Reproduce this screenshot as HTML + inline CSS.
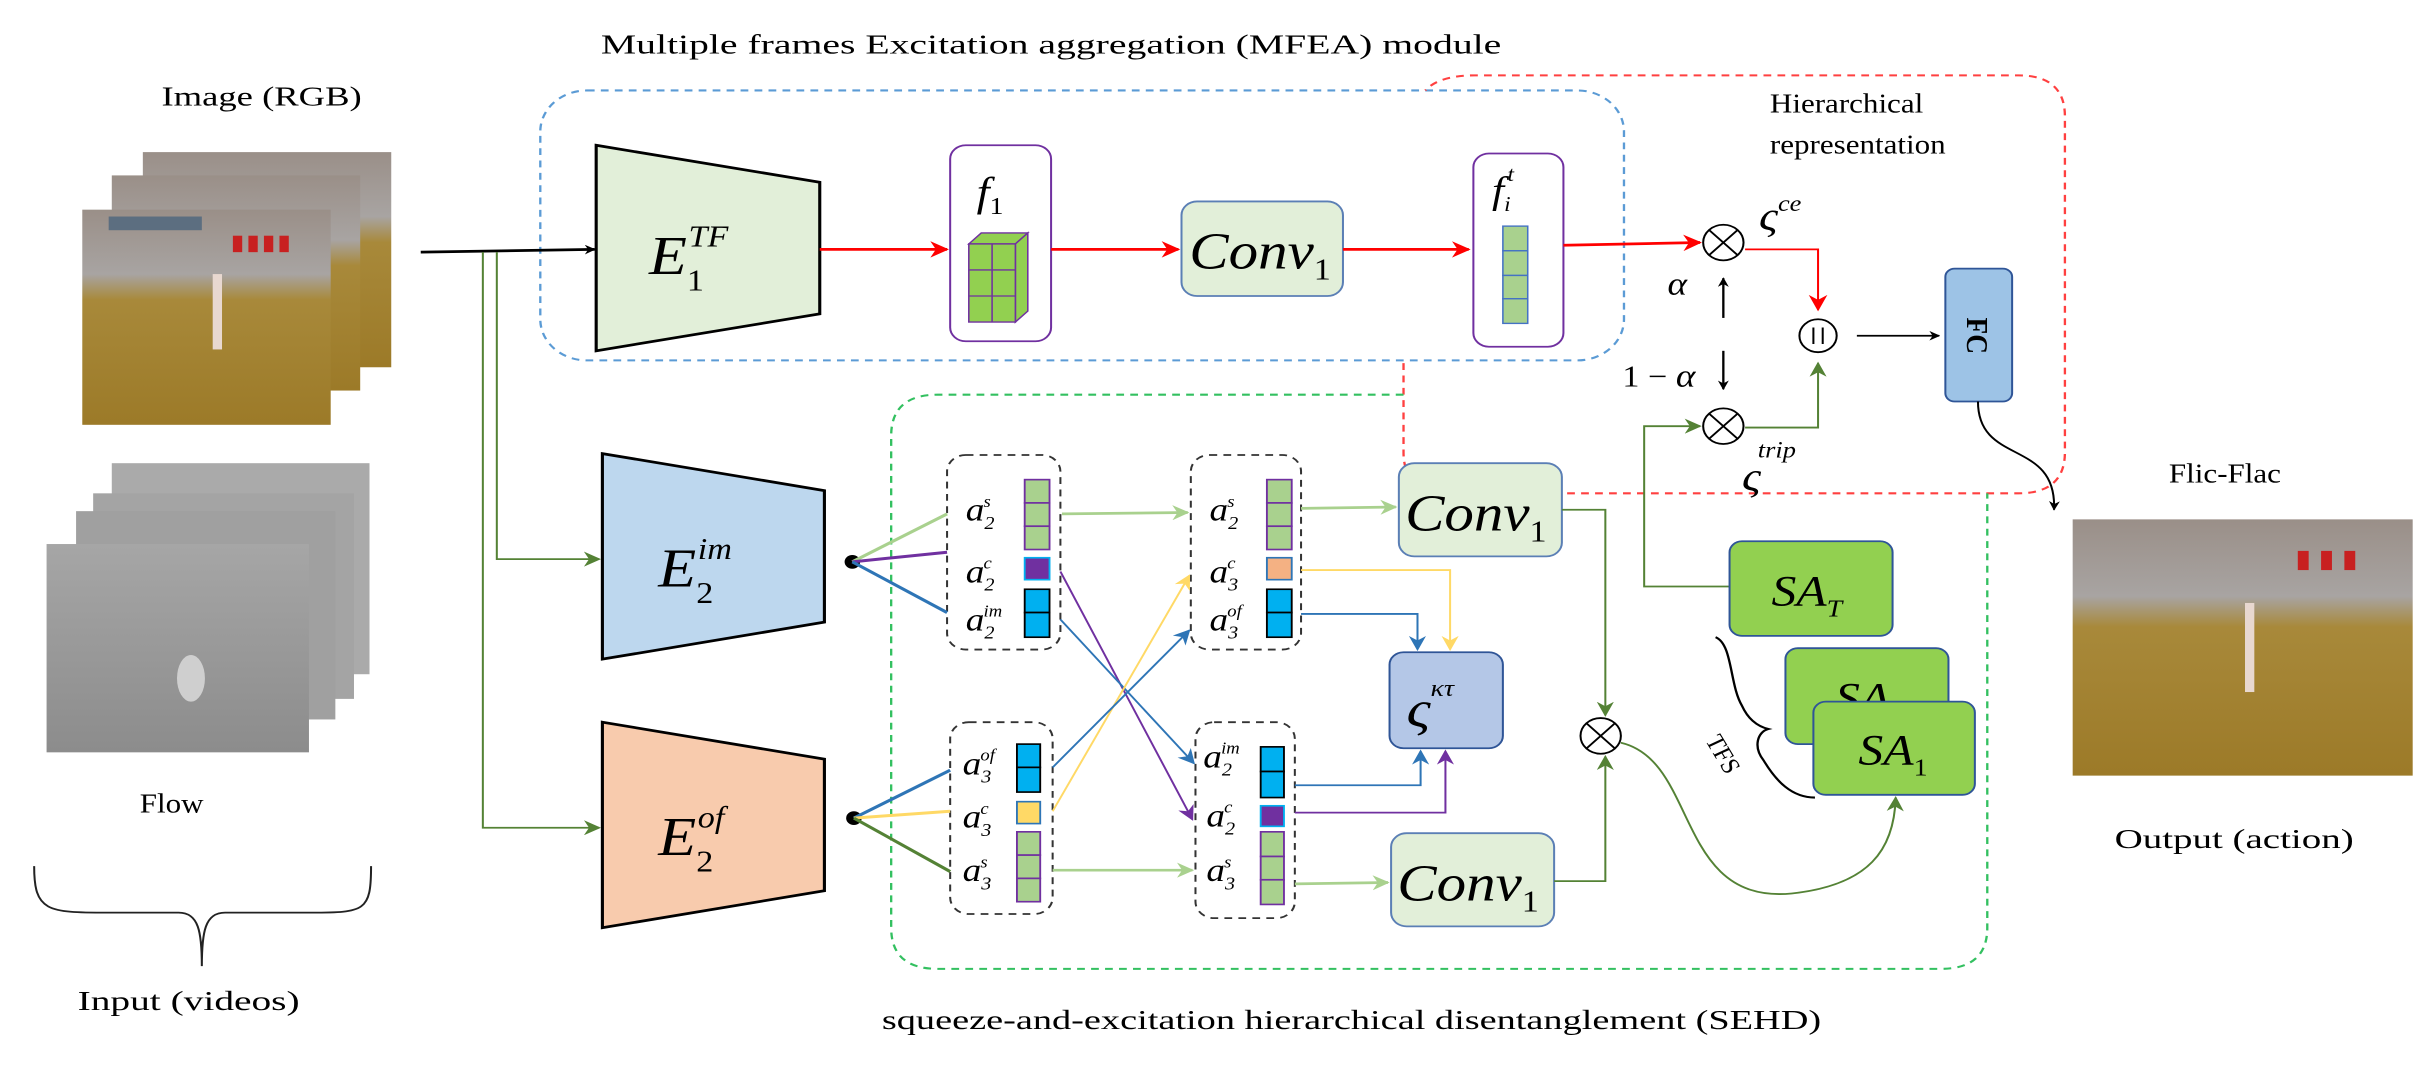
<!DOCTYPE html>
<html><head><meta charset="utf-8"><style>html,body{margin:0;padding:0;background:#fff;overflow:hidden}svg{display:block}</style></head><body>
<svg width="2422" height="1073" viewBox="0 0 1560 783" preserveAspectRatio="none" xmlns="http://www.w3.org/2000/svg" font-family="Liberation Serif, serif">
<defs>
<marker id="mk" viewBox="0 0 10 10" refX="9" refY="5" markerWidth="7" markerHeight="7" orient="auto" markerUnits="userSpaceOnUse"><path d="M0,0 L10,5 L0,10 L3,5z" fill="#000"/></marker>
<marker id="mr" viewBox="0 0 10 10" refX="9" refY="5" markerWidth="12" markerHeight="12" orient="auto" markerUnits="userSpaceOnUse"><path d="M0,0 L10,5 L0,10 L3,5z" fill="#f00"/></marker>
<marker id="mg" viewBox="0 0 10 10" refX="9" refY="5" markerWidth="11" markerHeight="11" orient="auto" markerUnits="userSpaceOnUse"><path d="M0,0 L10,5 L0,10 L3,5z" fill="#548235"/></marker>
<marker id="mlg" viewBox="0 0 10 10" refX="9" refY="5" markerWidth="11" markerHeight="11" orient="auto" markerUnits="userSpaceOnUse"><path d="M0,0 L10,5 L0,10 L3,5z" fill="#a9d18e"/></marker>
<marker id="mb" viewBox="0 0 10 10" refX="9" refY="5" markerWidth="11" markerHeight="11" orient="auto" markerUnits="userSpaceOnUse"><path d="M0,0 L10,5 L0,10 L3,5z" fill="#2e75b6"/></marker>
<marker id="mp" viewBox="0 0 10 10" refX="9" refY="5" markerWidth="11" markerHeight="11" orient="auto" markerUnits="userSpaceOnUse"><path d="M0,0 L10,5 L0,10 L3,5z" fill="#7030a0"/></marker>
<marker id="my" viewBox="0 0 10 10" refX="9" refY="5" markerWidth="11" markerHeight="11" orient="auto" markerUnits="userSpaceOnUse"><path d="M0,0 L10,5 L0,10 L3,5z" fill="#ffd966"/></marker>
<linearGradient id="ph" x1="0" y1="0" x2="0" y2="1"><stop offset="0" stop-color="#9a8f88"/><stop offset="0.3" stop-color="#a8a4a2"/><stop offset="0.42" stop-color="#a8893a"/><stop offset="1" stop-color="#9c7a28"/></linearGradient>
<linearGradient id="fl" x1="0" y1="0" x2="0" y2="1"><stop offset="0" stop-color="#a6a6a6"/><stop offset="0.5" stop-color="#999"/><stop offset="1" stop-color="#8c8c8c"/></linearGradient>
</defs>

<text x="387" y="39" font-size="20" textLength="580" lengthAdjust="spacingAndGlyphs">Multiple frames Excitation aggregation (MFEA) module</text>
<text x="104" y="77" font-size="20" textLength="129" lengthAdjust="spacingAndGlyphs">Image (RGB)</text>
<text x="90" y="593" font-size="20">Flow</text>
<text x="50" y="737" font-size="20" textLength="143" lengthAdjust="spacingAndGlyphs">Input (videos)</text>
<text x="568" y="751" font-size="20" textLength="605" lengthAdjust="spacingAndGlyphs">squeeze-and-excitation hierarchical disentanglement (SEHD)</text>
<text x="1140" y="82" font-size="20">Hierarchical</text>
<text x="1140" y="112" font-size="20">representation</text>
<text x="1397" y="352" font-size="20">Flic-Flac</text>
<text x="1362" y="619" font-size="20" textLength="154" lengthAdjust="spacingAndGlyphs">Output (action)</text>

<rect x="92" y="111" width="160" height="157" fill="url(#ph)"/>
<rect x="72" y="128" width="160" height="157" fill="url(#ph)"/>
<rect x="53" y="153" width="160" height="157" fill="url(#ph)"/>
<rect x="70" y="158" width="60" height="10" fill="#5c6e80"/>
<g fill="#c82020"><rect x="150" y="172" width="6" height="12"/><rect x="160" y="172" width="6" height="12"/><rect x="170" y="172" width="6" height="12"/><rect x="180" y="172" width="6" height="12"/></g>
<rect x="137" y="200" width="6" height="55" fill="#e8d8d0"/>
<rect x="72" y="338" width="166" height="154" fill="#aaa"/>
<rect x="60" y="360" width="168" height="150" fill="#a4a4a4"/>
<rect x="49" y="373" width="167" height="152" fill="#a0a0a0"/>
<rect x="30" y="397" width="169" height="152" fill="url(#fl)"/>
<ellipse cx="123" cy="495" rx="9" ry="17" fill="#cfcfcf"/>
<rect x="1335" y="379" width="219" height="187" fill="url(#ph)"/>
<g fill="#c82020"><rect x="1480" y="402" width="7" height="14"/><rect x="1495" y="402" width="7" height="14"/><rect x="1510" y="402" width="7" height="14"/></g>
<rect x="1446" y="440" width="6" height="65" fill="#e8d8d0"/>

<path d="M22,632 C22,665 30,666 70,666 L115,666 C128,666 130,680 130,705 C130,680 132,666 145,666 L200,666 C235,666 239,665 239,632" fill="none" stroke="#222" stroke-width="1.3"/>

<rect x="348" y="66" width="698" height="197" rx="30" fill="none" stroke="#5b9bd5" stroke-width="1.5" stroke-dasharray="5,4"/>
<path d="M904,265 L904,330 Q904,360 934,360 L1300,360 Q1330,360 1330,330 L1330,85 Q1330,55 1300,55 L950,55 Q927,55 918,66" fill="none" stroke="#ff4040" stroke-width="1.5" stroke-dasharray="5,4"/>
<path d="M904,288 L604,288 Q574,288 574,318 L574,677 Q574,707 604,707 L1250,707 Q1280,707 1280,677 L1280,360" fill="none" stroke="#33c060" stroke-width="1.5" stroke-dasharray="5,4"/>

<line x1="271" y1="184" x2="383" y2="182" stroke="#000" stroke-width="2" marker-end="url(#mk)"/>
<path d="M320,184 L320,408 L386,408" fill="none" stroke="#548235" stroke-width="1.3" marker-end="url(#mg)"/>
<path d="M311,184 L311,604 L386,604" fill="none" stroke="#548235" stroke-width="1.3" marker-end="url(#mg)"/>

<polygon points="384,106 528,133 528,229 384,256" fill="#e2efd9" stroke="#000" stroke-width="2"/>
<text x="418" y="200" font-size="40" font-style="italic">E<tspan font-size="22" dy="12" font-style="normal">1</tspan><tspan font-size="22" dx="-10" dy="-32">TF</tspan></text>
<polygon points="388,331 531,358 531,454 388,481" fill="#bdd7ee" stroke="#000" stroke-width="2"/>
<text x="424" y="428" font-size="40" font-style="italic">E<tspan font-size="22" dy="12" font-style="normal">2</tspan><tspan font-size="22" dx="-10" dy="-32">im</tspan></text>
<polygon points="388,527 531,554 531,650 388,677" fill="#f8cbad" stroke="#000" stroke-width="2"/>
<text x="424" y="624" font-size="40" font-style="italic">E<tspan font-size="22" dy="12" font-style="normal">2</tspan><tspan font-size="22" dx="-10" dy="-32">of</tspan></text>

<line x1="528" y1="182" x2="610" y2="182" stroke="#f00" stroke-width="2" marker-end="url(#mr)"/>
<rect x="612" y="106" width="65" height="143" rx="10" fill="#fff" stroke="#7030a0" stroke-width="1.3"/>
<text x="629" y="150" font-size="30" font-style="italic">f<tspan font-size="18" dy="6" font-style="normal">1</tspan></text>
<g stroke="#7030a0" stroke-width="1" fill="#92d050">
<polygon points="624,178 632,170 662,170 654,178"/>
<polygon points="654,178 662,170 662,227 654,235"/>
<rect x="624" y="178" width="30" height="57"/>
<line x1="639" y1="178" x2="639" y2="235"/><line x1="624" y1="197" x2="654" y2="197"/><line x1="624" y1="216" x2="654" y2="216"/>
</g>
<line x1="677" y1="182" x2="759" y2="182" stroke="#f00" stroke-width="2" marker-end="url(#mr)"/>
<rect x="761" y="147" width="104" height="69" rx="10" fill="#e2efd9" stroke="#5b7fb5" stroke-width="1.3"/>
<text x="766" y="196" font-size="38" font-style="italic">Conv<tspan font-size="22" dy="8" font-style="normal">1</tspan></text>
<line x1="865" y1="182" x2="946" y2="182" stroke="#f00" stroke-width="2" marker-end="url(#mr)"/>
<rect x="949" y="112" width="58" height="141" rx="10" fill="#fff" stroke="#7030a0" stroke-width="1.3"/>
<text x="961" y="148" font-size="28" font-style="italic">f<tspan font-size="15" dy="6">i</tspan><tspan font-size="15" dy="-22" dx="-2">t</tspan></text>
<g fill="#a9d18e" stroke="#4472c4" stroke-width="1"><rect x="968" y="165" width="16" height="18"/><rect x="968" y="183" width="16" height="18"/><rect x="968" y="201" width="16" height="17"/><rect x="968" y="218" width="16" height="18"/></g>
<line x1="1007" y1="179" x2="1095" y2="177" stroke="#f00" stroke-width="2" marker-end="url(#mr)"/>

<g fill="#fff" stroke="#000" stroke-width="1.3">
<circle cx="1110" cy="177" r="13"/><path d="M1101,168 L1119,186 M1119,168 L1101,186"/>
<circle cx="1110" cy="311" r="13"/><path d="M1101,302 L1119,320 M1119,302 L1101,320"/>
<circle cx="1171" cy="245" r="12"/><path d="M1168,239 L1168,251 M1174,239 L1174,251"/>
</g>
<text x="1133" y="168" font-size="30" font-style="italic">ς<tspan font-size="17" dy="-14">ce</tspan></text>
<text x="1074" y="215" font-size="24" font-style="italic">α</text>
<text x="1045" y="282" font-size="22">1 − <tspan font-style="italic" font-size="24">α</tspan></text>
<text x="1122" y="358" font-size="30" font-style="italic">ς<tspan font-size="17" dy="-24" dx="-2">trip</tspan></text>
<line x1="1110" y1="232" x2="1110" y2="203" stroke="#000" stroke-width="1.5" marker-end="url(#mk)"/>
<line x1="1110" y1="256" x2="1110" y2="284" stroke="#000" stroke-width="1.5" marker-end="url(#mk)"/>
<path d="M1124,182 L1171,182 L1171,226" fill="none" stroke="#f00" stroke-width="1.3" marker-end="url(#mr)"/>
<path d="M1124,312 L1171,312 L1171,265" fill="none" stroke="#548235" stroke-width="1.3" marker-end="url(#mg)"/>
<line x1="1196" y1="245" x2="1249" y2="245" stroke="#000" stroke-width="1.3" marker-end="url(#mk)"/>
<rect x="1253" y="196" width="43" height="97" rx="6" fill="#9dc3e6" stroke="#2f5597" stroke-width="1.3"/>
<text x="1274" y="245" font-size="20" font-weight="bold" text-anchor="middle" transform="rotate(90 1274 245)" dy="7">FC</text>
<path d="M1274,293 C1274,340 1325,320 1323,372" fill="none" stroke="#000" stroke-width="1.3" marker-end="url(#mk)"/>

<g fill="none" stroke="#333" stroke-width="1.3" stroke-dasharray="5,4">
<rect x="610" y="332" width="73" height="142" rx="12"/>
<rect x="612" y="527" width="66" height="140" rx="12"/>
<rect x="767" y="332" width="71" height="142" rx="12"/>
<rect x="770" y="527" width="64" height="143" rx="12"/>
</g>
<g font-style="italic" font-size="24">
<text x="622" y="380">a<tspan font-size="13" dy="6">2</tspan><tspan font-size="12" dy="-16" dx="-7">s</tspan></text>
<text x="622" y="425">a<tspan font-size="13" dy="6">2</tspan><tspan font-size="12" dy="-16" dx="-7">c</tspan></text>
<text x="622" y="460">a<tspan font-size="13" dy="6">2</tspan><tspan font-size="12" dy="-16" dx="-7">im</tspan></text>
<text x="620" y="565">a<tspan font-size="13" dy="6">3</tspan><tspan font-size="12" dy="-16" dx="-7">of</tspan></text>
<text x="620" y="604">a<tspan font-size="13" dy="6">3</tspan><tspan font-size="12" dy="-16" dx="-7">c</tspan></text>
<text x="620" y="643">a<tspan font-size="13" dy="6">3</tspan><tspan font-size="12" dy="-16" dx="-7">s</tspan></text>
<text x="779" y="380">a<tspan font-size="13" dy="6">2</tspan><tspan font-size="12" dy="-16" dx="-7">s</tspan></text>
<text x="779" y="425">a<tspan font-size="13" dy="6">3</tspan><tspan font-size="12" dy="-16" dx="-7">c</tspan></text>
<text x="779" y="460">a<tspan font-size="13" dy="6">3</tspan><tspan font-size="12" dy="-16" dx="-7">of</tspan></text>
<text x="775" y="560">a<tspan font-size="13" dy="6">2</tspan><tspan font-size="12" dy="-16" dx="-7">im</tspan></text>
<text x="777" y="603">a<tspan font-size="13" dy="6">2</tspan><tspan font-size="12" dy="-16" dx="-7">c</tspan></text>
<text x="777" y="643">a<tspan font-size="13" dy="6">3</tspan><tspan font-size="12" dy="-16" dx="-7">s</tspan></text>
</g>
<g stroke-width="1.2">
<g fill="#a9d18e" stroke="#7030a0"><rect x="660" y="350" width="16" height="17"/><rect x="660" y="367" width="16" height="17"/><rect x="660" y="384" width="16" height="17"/></g>
<rect x="660" y="407" width="16" height="16" fill="#7030a0" stroke="#00b0f0"/>
<g fill="#00b0f0" stroke="#000"><rect x="660" y="430" width="16" height="17"/><rect x="660" y="447" width="16" height="18"/></g>
<g fill="#00b0f0" stroke="#000"><rect x="655" y="543" width="15" height="17"/><rect x="655" y="560" width="15" height="18"/></g>
<rect x="655" y="585" width="15" height="16" fill="#ffd966" stroke="#2e75b6"/>
<g fill="#a9d18e" stroke="#7030a0"><rect x="655" y="607" width="15" height="17"/><rect x="655" y="624" width="15" height="17"/><rect x="655" y="641" width="15" height="17"/></g>
<g fill="#a9d18e" stroke="#7030a0"><rect x="816" y="350" width="16" height="17"/><rect x="816" y="367" width="16" height="17"/><rect x="816" y="384" width="16" height="17"/></g>
<rect x="816" y="407" width="16" height="16" fill="#f4b183" stroke="#2e75b6"/>
<g fill="#00b0f0" stroke="#000"><rect x="816" y="430" width="16" height="17"/><rect x="816" y="447" width="16" height="18"/></g>
<g fill="#00b0f0" stroke="#000"><rect x="812" y="545" width="15" height="18"/><rect x="812" y="563" width="15" height="19"/></g>
<rect x="812" y="588" width="15" height="15" fill="#7030a0" stroke="#00b0f0"/>
<g fill="#a9d18e" stroke="#7030a0"><rect x="812" y="607" width="15" height="18"/><rect x="812" y="625" width="15" height="17"/><rect x="812" y="642" width="15" height="18"/></g>
</g>

<circle cx="549" cy="410" r="5" fill="#000"/>
<circle cx="550" cy="597" r="5" fill="#000"/>
<g stroke-width="2.2" fill="none">
<line x1="549" y1="410" x2="610" y2="375" stroke="#a9d18e"/>
<line x1="549" y1="410" x2="610" y2="403" stroke="#7030a0"/>
<line x1="549" y1="410" x2="610" y2="447" stroke="#2e75b6"/>
<line x1="550" y1="597" x2="612" y2="562" stroke="#2e75b6"/>
<line x1="550" y1="597" x2="612" y2="592" stroke="#ffd966"/>
<line x1="550" y1="597" x2="612" y2="636" stroke="#548235"/>
</g>
<g stroke-width="1.3" fill="none">
<line x1="684" y1="375" x2="765" y2="374" stroke="#a9d18e" stroke-width="2" marker-end="url(#mlg)"/>
<line x1="683" y1="417" x2="768" y2="598" stroke="#7030a0" marker-end="url(#mp)"/>
<line x1="683" y1="452" x2="769" y2="557" stroke="#2e75b6" marker-end="url(#mb)"/>
<line x1="678" y1="592" x2="766" y2="420" stroke="#ffd966" marker-end="url(#my)"/>
<line x1="678" y1="560" x2="766" y2="460" stroke="#2e75b6" marker-end="url(#mb)"/>
<line x1="678" y1="635" x2="768" y2="635" stroke="#a9d18e" stroke-width="2" marker-end="url(#mlg)"/>
<line x1="838" y1="371" x2="899" y2="370" stroke="#a9d18e" stroke-width="2" marker-end="url(#mlg)"/>
<path d="M838,416 L934,416 L934,474" stroke="#ffd966" marker-end="url(#my)"/>
<path d="M838,448 L913,448 L913,474" stroke="#2e75b6" marker-end="url(#mb)"/>
<path d="M834,573 L915,573 L915,548" stroke="#2e75b6" marker-end="url(#mb)"/>
<path d="M834,593 L931,593 L931,548" stroke="#7030a0" marker-end="url(#mp)"/>
<line x1="834" y1="645" x2="894" y2="644" stroke="#a9d18e" stroke-width="2" marker-end="url(#mlg)"/>
</g>

<rect x="901" y="338" width="105" height="68" rx="10" fill="#e2efd9" stroke="#5b7fb5" stroke-width="1.3"/>
<text x="905" y="387" font-size="38" font-style="italic">Conv<tspan font-size="22" dy="8" font-style="normal">1</tspan></text>
<rect x="896" y="608" width="105" height="68" rx="10" fill="#e2efd9" stroke="#5b7fb5" stroke-width="1.3"/>
<text x="900" y="657" font-size="38" font-style="italic">Conv<tspan font-size="22" dy="8" font-style="normal">1</tspan></text>
<rect x="895" y="476" width="73" height="70" rx="9" fill="#b4c7e7" stroke="#2f5597" stroke-width="1.3"/>
<text x="906" y="530" font-size="38" font-style="italic">ς<tspan font-size="18" dy="-22">κτ</tspan></text>

<path d="M1006,372 L1034,372 L1034,522" fill="none" stroke="#548235" stroke-width="1.3" marker-end="url(#mg)"/>
<path d="M1001,643 L1034,643 L1034,552" fill="none" stroke="#548235" stroke-width="1.3" marker-end="url(#mg)"/>
<g fill="#fff" stroke="#000" stroke-width="1.3"><circle cx="1031" cy="537" r="13"/><path d="M1022,528 L1040,546 M1040,528 L1022,546"/></g>
<path d="M1044,542 C1094,555 1079,660 1154,652 C1204,646 1220,620 1221,582" fill="none" stroke="#548235" stroke-width="1.3" marker-end="url(#mg)"/>
<path d="M1114,428 L1059,428 L1059,311 L1095,311" fill="none" stroke="#548235" stroke-width="1.3" marker-end="url(#mg)"/>

<rect x="1114" y="395" width="105" height="69" rx="8" fill="#92d050" stroke="#2f5597" stroke-width="1.3"/>
<text x="1141" y="442" font-size="32" font-style="italic">SA<tspan font-size="18" dy="8">T</tspan></text>
<rect x="1150" y="473" width="105" height="70" rx="8" fill="#92d050" stroke="#2f5597" stroke-width="1.3"/>
<text x="1182" y="520" font-size="32" font-style="italic">SA</text>
<rect x="1168" y="512" width="104" height="68" rx="8" fill="#92d050" stroke="#2f5597" stroke-width="1.3"/>
<text x="1197" y="558" font-size="32" font-style="italic">SA<tspan font-size="18" dy="8" font-style="normal">1</tspan></text>
<path d="M1105,465 C1116,470 1114,500 1122,515 C1126,525 1132,530 1139,532 C1132,534 1129,545 1136,555 C1144,570 1154,582 1169,582" fill="none" stroke="#000" stroke-width="1.5"/>
<text x="1098" y="540" font-size="17" transform="rotate(62 1098 540)">TFS</text>
</svg>
</body></html>
